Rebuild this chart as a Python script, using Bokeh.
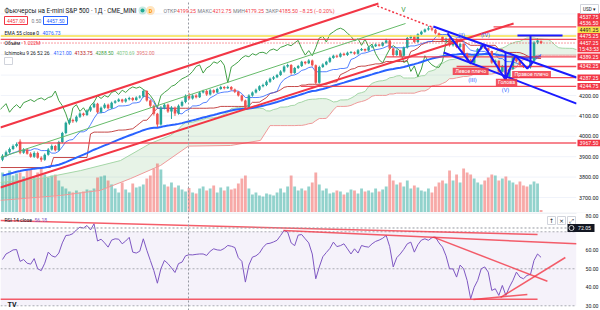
import numpy as np
from bokeh.plotting import figure
from bokeh.layouts import column
from bokeh.models import Range1d
from bokeh.core.properties import value
from bokeh.embed import file_html
from bokeh.resources import INLINE

# ---------------- data ----------------
opens = [3885, 3905, 3922, 3938, 3952, 3975, 3920, 3935, 3915, 3900,
         3918, 3895, 3885, 3910, 3935, 3952, 3932, 3972, 4016, 4066,
         4080, 4074, 4096, 4112, 4104, 4126, 4142, 4160, 4118, 4140,
         4155, 4138, 4165, 4172, 4180, 4170, 4182, 4188, 4178, 4190,
         4195, 4222, 4175, 4150, 4110, 4058, 4140, 4155, 4122, 4140,
         4112, 4150, 4168, 4199.25, 4185, 4200, 4192, 4215, 4222, 4205,
         4226, 4215, 4232, 4242, 4236, 4242, 4230, 4218, 4200, 4175,
         4140, 4200, 4215, 4228, 4245, 4252, 4268, 4282, 4290, 4300,
         4318, 4342, 4350, 4310, 4335, 4345, 4365, 4358, 4372, 4348,
         4262, 4340, 4352, 4365, 4384, 4395, 4390, 4405, 4398, 4410,
         4412, 4405, 4422, 4428, 4420, 4436, 4442, 4450, 4444, 4458,
         4470, 4430, 4398, 4420, 4395, 4435, 4482, 4490, 4462, 4500,
         4512, 4524, 4530, 4522, 4505, 4490, 4468, 4478, 4446, 4476,
         4438, 4452, 4405, 4375, 4360, 4395, 4428, 4445, 4432, 4418,
         4362, 4370, 4318, 4345, 4292, 4330, 4395, 4368, 4350, 4340,
         4338, 4368, 4460, 4466]
highs = [3912, 3930, 3945, 3960, 3970, 3985, 3942, 3940, 3922, 3926,
         3925, 3902, 3916, 3942, 3960, 3958, 3978, 4022, 4072, 4088,
         4086, 4102, 4118, 4116, 4132, 4148, 4166, 4164, 4146, 4162,
         4160, 4170, 4178, 4186, 4184, 4188, 4194, 4192, 4196, 4202,
         4230, 4226, 4180, 4155, 4115, 4148, 4162, 4160, 4148, 4146,
         4156, 4175, 4205, 4212.75, 4206, 4206, 4220, 4228, 4228, 4232,
         4230, 4238, 4248, 4246, 4248, 4246, 4234, 4222, 4204, 4180,
         4206, 4220, 4234, 4250, 4258, 4274, 4288, 4296, 4306, 4324,
         4348, 4356, 4354, 4340, 4350, 4370, 4368, 4378, 4376, 4352,
         4346, 4358, 4370, 4390, 4400, 4400, 4410, 4410, 4415, 4418,
         4416, 4428, 4433, 4430, 4441, 4447, 4455, 4452, 4463, 4478,
         4474, 4434, 4426, 4424, 4440, 4487, 4496, 4494, 4505, 4518,
         4528, 4540, 4537.75, 4526, 4508, 4493, 4484, 4482, 4481, 4480,
         4457, 4455, 4410, 4380, 4400, 4433, 4450, 4448, 4435, 4420,
         4376, 4372, 4350, 4348, 4335, 4400, 4398, 4372, 4355, 4345,
         4372, 4466, 4480, 4470]
lows = [3878, 3898, 3915, 3932, 3946, 3912, 3914, 3910, 3895, 3894,
        3890, 3875, 3880, 3905, 3930, 3926, 3928, 3966, 4010, 4060,
        4066, 4068, 4090, 4098, 4100, 4120, 4138, 4112, 4112, 4135,
        4132, 4134, 4160, 4168, 4164, 4165, 4176, 4172, 4174, 4185,
        4190, 4170, 4140, 4102, 4045, 4052, 4132, 4115, 4085, 4100,
        4106, 4145, 4162, 4179.25, 4180, 4186, 4188, 4210, 4198, 4200,
        4210, 4212, 4228, 4230, 4232, 4225, 4212, 4195, 4170, 4132,
        4135, 4194, 4210, 4222, 4240, 4246, 4262, 4276, 4285, 4296,
        4312, 4336, 4302, 4306, 4330, 4340, 4352, 4354, 4342, 4255,
        4258, 4335, 4348, 4360, 4380, 4384, 4386, 4394, 4394, 4405,
        4400, 4400, 4418, 4415, 4416, 4432, 4438, 4440, 4440, 4454,
        4425, 4390, 4394, 4390, 4390, 4430, 4476, 4458, 4458, 4496,
        4508, 4518, 4515, 4500, 4485, 4462, 4464, 4440, 4440, 4432,
        4432, 4400, 4370, 4352, 4355, 4390, 4424, 4428, 4412, 4356,
        4356, 4312, 4315, 4282, 4286, 4325, 4362, 4345, 4335, 4330,
        4332, 4362, 4452, 4452]
closes = [3905, 3922, 3938, 3952, 3962, 3920, 3935, 3915, 3900, 3918,
          3895, 3885, 3910, 3935, 3952, 3932, 3972, 4016, 4066, 4080,
          4074, 4096, 4112, 4104, 4126, 4142, 4160, 4118, 4140, 4155,
          4138, 4165, 4172, 4180, 4170, 4182, 4188, 4178, 4190, 4195,
          4222, 4175, 4150, 4110, 4058, 4140, 4155, 4122, 4140, 4112,
          4150, 4168, 4199, 4185.5, 4200, 4192, 4215, 4222, 4205, 4226,
          4215, 4232, 4242, 4236, 4242, 4230, 4218, 4200, 4175, 4140,
          4200, 4215, 4228, 4245, 4252, 4268, 4282, 4290, 4300, 4318,
          4342, 4350, 4310, 4335, 4345, 4365, 4358, 4372, 4348, 4262,
          4340, 4352, 4365, 4384, 4395, 4390, 4405, 4398, 4410, 4412,
          4405, 4422, 4428, 4420, 4436, 4442, 4450, 4444, 4458, 4470,
          4430, 4398, 4420, 4395, 4435, 4482, 4490, 4462, 4500, 4512,
          4524, 4530, 4522, 4505, 4490, 4468, 4478, 4446, 4476, 4438,
          4452, 4405, 4375, 4360, 4395, 4428, 4445, 4432, 4418, 4362,
          4370, 4318, 4345, 4292, 4330, 4395, 4368, 4350, 4340, 4338,
          4368, 4460, 4470, 4457.25]
volumes_m = [2.0, 1.9, 2.1, 1.85, 1.95, 2.0, 1.8, 2.1, 2.2, 1.8,
             2.0, 2.25, 1.9, 1.75, 1.85, 1.9, 1.6, 1.3, 1.2, 1.05,
             1.0, 1.1, 1.0, 1.05, 1.15, 1.1, 1.2, 1.75, 1.8, 1.85,
             1.6, 1.4, 1.2, 1.0, 1.5, 1.15, 1.0, 1.45, 1.25, 1.3,
             1.4, 1.7, 1.85, 2.2, 2.45, 2.15, 1.4, 1.3, 1.5, 1.25,
             1.35, 1.15, 1.05, 1.222, 1.0, 0.95, 1.2, 1.3, 1.1, 1.2,
             1.35, 1.0, 1.25, 1.1, 1.3, 1.15, 1.2, 1.45, 1.7, 1.85,
             1.2, 0.9, 1.0, 0.85, 0.8, 0.95, 0.9, 0.85, 1.0, 1.2,
             1.0, 1.3, 1.85, 1.3, 1.1, 1.2, 1.1, 1.3, 1.5, 2.0,
             1.4, 1.1, 1.2, 0.95, 1.0, 1.1, 1.05, 0.9, 1.0, 1.15,
             1.1, 0.95, 1.2, 1.05, 1.1, 1.0, 1.2, 1.05, 1.15, 1.3,
             1.9, 1.6, 1.4, 1.5, 1.3, 1.6, 1.2, 1.35, 1.25, 1.1,
             1.05, 1.2, 1.0, 1.3, 1.5, 1.6, 1.45, 2.1, 1.6, 1.9,
             1.5, 2.2, 2.0, 1.9, 1.7, 1.5, 1.4, 1.6, 1.75, 1.9,
             1.85, 1.6, 1.7, 1.8, 1.6, 1.5, 1.4, 1.55, 1.35, 1.3,
             1.4, 1.55, 1.45, 0.12]
rsi14 = [55, 58, 59, 60.2, 60.4, 54, 55, 53, 52.5, 55.5,
         50, 49, 53, 59, 57, 56.3, 58.5, 64, 68, 68.2,
         69, 71, 72.5, 72, 73.4, 71, 74.3, 65, 66, 64,
         61.7, 65.5, 66.2, 66, 63.5, 65, 67, 59, 58.5, 59.5,
         66.2, 60, 54.5, 49, 42.2, 50, 54.5, 52.8, 50.5, 48,
         52.8, 53.6, 57, 57.6, 57.5, 57.8, 58, 58, 57.2, 59.5,
         60.8, 60.2, 60, 61, 62.6, 62.2, 61.5, 56, 54, 42.8,
         52, 56.3, 57, 58.5, 61.5, 63.5, 63.8, 64.5, 65.4, 68,
         70.7, 69.9, 64, 62.5, 68.2, 68.5, 66.2, 64, 58, 44.6,
         51, 56.5, 58.8, 61, 64.4, 62, 62.5, 63.5, 60.8, 58,
         60.8, 58.5, 62.6, 62, 61.7, 63.5, 64.8, 65.5, 66.5, 68,
         62, 51, 56, 58, 60.5, 63.5, 64.4, 59, 63, 65.5,
         66.2, 65.4, 66.8, 67.1, 64, 61.7, 57, 50, 49.9, 45.5,
         52, 50, 43.7, 33.8, 40, 43.7, 50, 51, 48.2, 38.3,
         39.2, 35.6, 41, 35.6, 40.1, 43.7, 48.2, 45.5, 44.6, 46.4,
         47, 54.5, 58, 56.18]

ema55_first = 3808.0
kijun_lead_bar = [-0.6, 13.6, 14.5, 24.0]
kijun_lead_val = [3847, 3847, 3896, 3896]
spanA_lead_bar = [-0.6, 10.8, 22.2, 33.5, 42.0, 47.7]
spanA_lead_val = [3774, 3793, 3832, 3881, 3965, 4004]
spanB_lead_bar = [-0.6, 16.5, 27.8, 36.4, 44.9, 52.8, 64.8, 73.3]
spanB_lead_val = [3686, 3710, 3735, 3793, 3857, 3952, 3955, 3980]

# drawings (bar index, price)
chan_up_bar, chan_up_val = [-0.6, 106.8], [4043, 4651]
chan_lo_bar, chan_lo_val = [-0.6, 145.2], [3749, 4553]
chan_mid_bar, chan_mid_val = [-0.6, 114.5], [3896, 4553]
dot_bar, dot_val = [105.4, 122.4], [4646, 4533]
red_levels = [3967.50, 4244.75, 4287.25, 4342.25, 4389.25, 4475.25, 4536.50]
red_level_start = [4.3, 84.7, 143.5, 129.0, 109.0, -0.6, 139.5]
yellow_level = 4491.25
last_price = 4457.25
blue_up_bar, blue_up_val = [122.4, 163.1], [4538, 4288]
blue_lo_bar, blue_lo_val = [125.3, 163.1], [4411, 4160]
zig_bar = [126.4, 133.0, 136.6, 142.9, 145.7, 149.1, 150.6]
zig_val = [4504, 4357, 4450, 4278, 4396, 4332, 4362]
head_bar, head_val = [142.9, 142.9], [4411, 4278]
proj_v_bar, proj_v_val = [150.0, 150.0], [4494, 4362]
proj_h_bar, proj_h_val = [146.3, 159.1], [4494, 4494]
pattern_text = ["Левое плечо", "Голова", "Правое плечо"]
pattern_bar = [133.0, 143.2, 150.3]
pattern_val = [4318, 4264, 4303]
wave_text = ["(II)", "(III)", "(IV)", "(V)"]
wave_bar = [130.4, 133.5, 137.2, 142.9]
wave_val = [4499, 4278, 4499, 4229]

rsi_lines = [([-0.6, 152.0], [76.1, 68.5]),
             ([79.8, 163.1], [70.7, 63.5]),
             ([-0.6, 152.0], [33.5, 33.5]),
             ([122.4, 154.8], [67.1, 43.3]),
             ([133.8, 149.1], [33.4, 36.1]),
             ([141.5, 159.9], [34.5, 56.1])]
cross_bar = 52.84
cross_rsi = 72.05

price_ticks = [4200, 4100, 4000, 3900, 3800, 3700]
rsi_ticks = [80, 60, 50, 40, 30]
axis_levels = [4537.75, 4536.50, 4491.25, 4475.25, 4389.25, 4342.25, 4287.25, 4244.75, 3967.50]
axis_level_colors = ["#f23645", "#f23645", "#f7e04b", "#f23645", "#f23645", "#f23645", "#f23645", "#f23645", "#f23645"]
countdown = "15:43:53"

# ---------------- geometry ----------------
W, HP, HR = 600, 212, 98
SPX = 3.52
I0 = -2 / SPX
I_END = (W - 2) / SPX
I_AX = (576 - 2) / SPX
P_TOP, P_BOT = 4665.7, 3626.5
R_TOP, R_BOT = 80.42, 27.45
FONT = "Roboto"

def tx(px):
    return (px - 2) / SPX

def ty(py):
    return P_TOP - py * (P_TOP - P_BOT) / HP

def ry(py):
    return R_TOP - py * (R_TOP - R_BOT) / HR

def pyof(v):
    return (P_TOP - v) / (P_TOP - P_BOT) * HP

def put(fig, xs, ys, texts, color, size="6px", align="left", baseline="middle", style="normal", font=FONT):
    fig.text(x=list(xs), y=list(ys), text=list(texts), text_color=color, text_font_size=size,
             text_align=align, text_baseline=baseline, text_font_style=style, text_font=value(font))

def box(fig, x0, x1, y0, y1, conv, fill, line=None, alpha=1.0, lw=1):
    fig.quad(left=[tx(x0)], right=[tx(x1)], top=[conv(y0)], bottom=[conv(y1)],
             fill_color=fill, fill_alpha=alpha, line_color=line, line_width=lw)

n = len(closes)
bars = np.arange(n)
o = np.array(opens, float); h = np.array(highs, float)
l = np.array(lows, float); c = np.array(closes, float)

# indicators derived from the candles
ema = [ema55_first]
a = 2.0 / 56
for v in c[1:]:
    ema.append(ema[-1] + a * (v - ema[-1]))
tenkan = [(h[max(0, i - 8):i + 1].max() + l[max(0, i - 8):i + 1].min()) / 2 for i in range(n)]
kijun_c = {i: (h[i - 25:i + 1].max() + l[i - 25:i + 1].min()) / 2 for i in range(25, n)}
kijun_x = kijun_lead_bar + list(range(25, n))
kijun_y = kijun_lead_val + [kijun_c[i] for i in range(25, n)]
spanA_x = spanA_lead_bar + [i + 25 for i in range(25, n - 14)]
spanA_y = spanA_lead_val + [(tenkan[i] + kijun_c[i]) / 2 for i in range(25, n - 14)]
spanB_x = spanB_lead_bar + [i + 25 for i in range(51, n - 14)]
spanB_y = spanB_lead_val + [(h[i - 51:i + 1].max() + l[i - 51:i + 1].min()) / 2 for i in range(51, n - 14)]

UP, DN = "#26a69a", "#ef5350"
cols = [UP if c[i] >= o[i] else DN for i in range(n)]

# ---------------- price pane ----------------
p = figure(width=W, height=HP, x_range=Range1d(I0, I_END), y_range=Range1d(P_BOT, P_TOP),
           x_axis_location=None, y_axis_location=None, toolbar_location=None,
           output_backend="svg", min_border=0, outline_line_color=None)
p.grid.visible = False
p.extra_y_ranges = {"vol": Range1d(0, 10.6)}

for t in [3700, 3800, 3900, 4000, 4100, 4200, 4300, 4400, 4500, 4600]:
    p.line([I0, I_AX], [t, t], line_color="#f0f3fa", line_width=1)

p.patch(spanA_x + spanB_x[::-1], spanA_y + spanB_y[::-1], fill_color="#43a047", fill_alpha=0.13, line_color=None)
p.vbar(x=bars, top=volumes_m, width=0.8, fill_color=cols, fill_alpha=0.5, line_color=None, y_range_name="vol")
p.line(spanA_x, spanA_y, line_color="#a5d6a7", line_width=1)
p.line(spanB_x, spanB_y, line_color="#ef9a9a", line_width=1)
p.line(list(bars - 25), list(c), line_color="#43a047", line_width=1)
p.line(kijun_x, kijun_y, line_color="#b71c1c", line_width=1, line_alpha=0.8)
p.line(list(bars), tenkan, line_color="#2962ff", line_width=1, line_alpha=0.8)
p.line(list(bars), ema, line_color="#2962ff", line_width=2)

body_top = np.maximum(o, c); body_bot = np.minimum(o, c)
thin = (body_top - body_bot) < 3
body_top[thin] += 1.5; body_bot[thin] -= 1.5
p.segment(x0=bars, y0=l, x1=bars, y1=h, line_color=cols, line_width=1)
p.vbar(x=bars, top=body_top, bottom=body_bot, width=0.72, fill_color=cols, line_color=None)

# horizontal drawings
p.line([I0, I_AX], [yellow_level, yellow_level], line_color="#f5e04a", line_width=1.5)
for lv, st in zip(red_levels, red_level_start):
    wdt = 2 if lv == 3967.50 else 1.3
    alp = 0.6 if lv == 3967.50 else 0.9
    p.line([st, I_AX], [lv, lv], line_color="#f23645", line_width=wdt, line_alpha=alp)
p.line([I0, I_AX], [last_price, last_price], line_color="#f23645", line_width=1, line_dash="1 2")

# channel
p.line(chan_up_bar, chan_up_val, line_color="#f23645", line_width=2)
p.line(chan_lo_bar, chan_lo_val, line_color="#f23645", line_width=2)
p.line(chan_mid_bar, chan_mid_val, line_color="#66bb6a", line_width=1)
p.line(dot_bar, dot_val, line_color="#f23645", line_width=1.5, line_dash="2 2")
put(p, [tx(403)], [ty(9)], ["V"], "#43a047", size="7px", align="center")

# blue drawings
for bx, bv in [(blue_up_bar, blue_up_val), (blue_lo_bar, blue_lo_val), (zig_bar, zig_val),
               (head_bar, head_val), (proj_v_bar, proj_v_val), (proj_h_bar, proj_h_val)]:
    p.line(bx, bv, line_color="#1a1aff", line_width=2)

for txt, bx, bv in zip(pattern_text, pattern_bar, pattern_val):
    half = len(txt) * 1.45 + 2
    xp = 2 + bx * SPX; yp = pyof(bv)
    box(p, xp - half, xp + half, yp - 3.6, yp + 3.6, ty, "#f23645", alpha=0.85)
    put(p, [bx], [bv], [txt], "white", size="5.2px", align="center")
put(p, wave_bar, wave_val, wave_text, "#2962ff", size="5.6px", align="center")

# crosshair
p.line([cross_bar, cross_bar], [P_BOT, P_TOP], line_color="#9598a1", line_width=1, line_dash="2 2")

# header
put(p, [tx(4)], [ty(10)], ["Фьючерсы на E-mini S&P 500 · 1Д · CME_MINI"], "#131722", size="6.3px")
p.scatter([tx(142)], [ty(10)], size=8, fill_color="#22ab94", fill_alpha=0.25, line_color=None)
p.scatter([tx(142)], [ty(10)], size=4, fill_color="#22ab94", line_color=None)
p.scatter([tx(150)], [ty(10)], size=9, fill_color="#ff9800", fill_alpha=0.25, line_color=None)
put(p, [tx(150)], [ty(10)], ["D"], "#ff9800", size="5.5px", align="center", style="bold")
ohlc_lab = ["ОТКР", "МАКС", "МИН", "ЗАКР"]
ohlc_val = ["4199.25", "4212.75", "4179.25", "4185.50"]
lab_px = [163, 197, 232.5, 265]
val_px = [176.5, 212, 244.6, 278.5]
put(p, [tx(v) for v in lab_px], [ty(10)] * 4, ohlc_lab, "#787b86", size="5.2px")
put(p, [tx(v) for v in val_px], [ty(10)] * 4, ohlc_val, "#f23645", size="5.2px")
put(p, [tx(299), tx(313.5)], [ty(10)] * 2, ["−8.25", "(−0.20%)"], "#f23645", size="5.2px")

box(p, 4, 27, 16, 24, ty, "white", line="#f23645")
put(p, [tx(15.5)], [ty(20)], ["4457.00"], "#f23645", size="5px", align="center")
put(p, [tx(31)], [ty(20)], ["0.50"], "#787b86", size="5px")
box(p, 43, 67, 16, 24, ty, "white", line="#2962ff")
put(p, [tx(55)], [ty(20)], ["4457.50"], "#2962ff", size="5px", align="center")
put(p, [tx(4)], [ty(32)], ["EMA 55 close 0"], "#131722", size="5px")
put(p, [tx(42)], [ty(32)], ["4076.73"], "#2962ff", size="5px")
put(p, [tx(4)], [ty(42)], ["Объём"], "#131722", size="5px")
put(p, [tx(23)], [ty(42)], ["1.222M"], "#f23645", size="5px")
put(p, [tx(4)], [ty(52)], ["Ichimoku 9 26 52 26"], "#131722", size="5px")
ichi_vals = ["4121.00", "4133.75", "4288.50", "4070.69", "3952.00"]
ichi_cols = ["#2962ff", "#b71c1c", "#43a047", "#81c784", "#e57373"]
for v, col, xp in zip(ichi_vals, ichi_cols, [53, 74, 95, 116, 136]):
    put(p, [tx(xp)], [ty(52)], [v], col, size="5px")
box(p, 4, 12, 57, 64, ty, "white", line="#d1d4dc")

# price scale
p.quad(left=[I_AX], right=[I_END], bottom=[P_BOT], top=[P_TOP], fill_color="white", line_color=None)
put(p, [tx(598)] * len(price_ticks), price_ticks, ["%.2f" % t for t in price_ticks], "#131722", size="5.4px", align="right")
BH = 6.6
cur = pyof(last_price)
cur_top, cur_bot = cur - BH / 2, cur + BH / 2 + 6
placed = []
prev = cur_top
for v, col in sorted([(v, cl) for v, cl in zip(axis_levels, axis_level_colors) if v > last_price]):
    cy = min(pyof(v), prev - BH / 2)
    placed.append((v, col, cy)); prev = cy - BH / 2
prev = cur_bot
for v, col in sorted([(v, cl) for v, cl in zip(axis_levels, axis_level_colors) if v < last_price], reverse=True):
    cy = max(pyof(v), prev + BH / 2)
    placed.append((v, col, cy)); prev = cy + BH / 2
for v, col, cy in placed:
    box(p, 577, 600, cy - BH / 2, cy + BH / 2, ty, col)
    put(p, [tx(588.5)], [ty(cy)], ["%.2f" % v], "#131722" if col == "#f7e04b" else "white", size="5.2px", align="center")
box(p, 577, 600, cur_top, cur_bot, ty, "#f23645")
put(p, [tx(588.5)], [ty(cur)], ["%.2f" % last_price], "white", size="5.2px", align="center")
put(p, [tx(588.5)], [ty(cur + 6)], [countdown], "white", size="5.2px", align="center")
box(p, 580, 598, 4, 13, ty, "white", line="#d1d4dc")
put(p, [tx(589)], [ty(8.5)], ["USD ▾"], "#131722", size="4.6px", align="center")

# ---------------- RSI pane ----------------
r = figure(width=W, height=HR, x_range=p.x_range, y_range=Range1d(R_BOT, R_TOP),
           x_axis_location=None, y_axis_location=None, toolbar_location=None,
           output_backend="svg", min_border=0, outline_line_color=None)
r.grid.visible = False
r.quad(left=[I0], right=[I_AX], bottom=[30], top=[70], fill_color="#7e57c2", fill_alpha=0.08, line_color=None)
for lv in [70, 50, 30]:
    r.line([I0, I_AX], [lv, lv], line_color="#9598a1", line_width=1, line_dash="2 2", line_alpha=0.8)
r.line(list(bars), rsi14, line_color="#7e57c2", line_width=1)
for bx, bv in rsi_lines:
    r.line(bx, bv, line_color="#f23645", line_width=1.5, line_alpha=0.8)
r.line([cross_bar, cross_bar], [R_BOT, R_TOP], line_color="#9598a1", line_width=1, line_dash="2 2")
r.line([I0, I_AX], [cross_rsi, cross_rsi], line_color="#9598a1", line_width=1, line_dash="2 2")
r.line([I0, I_END], [ry(0.5), ry(0.5)], line_color="#e0e3eb", line_width=1)
put(r, [tx(4)], [ry(7)], ["RSI 14 close"], "#131722", size="5px")
put(r, [tx(34)], [ry(7)], ["56.18"], "#7e57c2", size="5px")
put(r, [tx(7)], [ry(92)], ["TV"], "#131722", size="7px", style="bold")
for xp, sym in zip([551, 561, 571], ["↑", "×", "⤢"]):
    box(r, xp - 4, xp + 4, 4, 12, ry, "white", line="#d1d4dc")
    put(r, [tx(xp)], [ry(8)], [sym], "#131722", size="6px", align="center", font="DejaVu Sans")
r.quad(left=[I_AX], right=[I_END], bottom=[R_BOT], top=[R_TOP], fill_color="white", line_color=None)
rsi_tick_y = [ry(3.4) if t == 80 else t for t in rsi_ticks]
put(r, [tx(598)] * len(rsi_ticks), rsi_tick_y, ["%.2f" % t for t in rsi_ticks], "#131722", size="5.2px", align="right")
ycr = (R_TOP - cross_rsi) / (R_TOP - R_BOT) * HR
box(r, 567, 594, ycr - 4, ycr + 4, ry, "#131722")
r.scatter([tx(571)], [cross_rsi], size=5, fill_color=None, line_color="white", line_width=0.8)
put(r, [tx(584)], [cross_rsi], ["%.2f" % cross_rsi], "white", size="5.2px", align="center")

layout = column(p, r, spacing=0)
open("out.html", "w").write(file_html(layout, INLINE))
